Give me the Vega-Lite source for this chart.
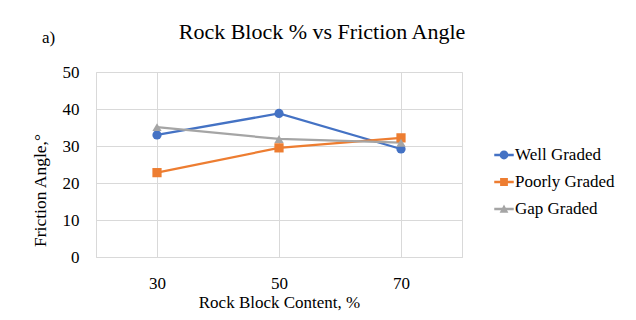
{
  "$schema": "https://vega.github.io/schema/vega-lite/v6.json",
  "background": "white",
  "autosize": "none",
  "width": 366,
  "height": 185,
  "padding": {"left": 96, "top": 72, "right": 174, "bottom": 63},
  "title": {"text": "Rock Block % vs Friction Angle", "anchor": "middle", "frame": "group", "font": "Liberation Serif", "fontSize": 22, "fontWeight": "normal", "color": "black", "dx": 43, "offset": -16},
  "data": {"values": [
    {"series": "Well Graded", "x": "30", "y": 33.0},
    {"series": "Well Graded", "x": "50", "y": 38.8},
    {"series": "Well Graded", "x": "70", "y": 29.2},
    {"series": "Poorly Graded", "x": "30", "y": 22.8},
    {"series": "Poorly Graded", "x": "50", "y": 29.5},
    {"series": "Poorly Graded", "x": "70", "y": 32.2},
    {"series": "Gap Graded", "x": "30", "y": 35.1},
    {"series": "Gap Graded", "x": "50", "y": 31.9},
    {"series": "Gap Graded", "x": "70", "y": 30.9}
  ]},
  "encoding": {
    "y": {"field": "y", "type": "quantitative",
      "scale": {"domain": [0, 50]},
      "axis": {"title": "Friction  Angle,°", "values": [0, 10, 20, 30, 40, 50], "grid": true, "gridColor": "#d9d9d9", "ticks": false, "domain": false, "labelFont": "Liberation Serif", "labelFontSize": 17, "labelColor": "black", "labelPadding": 17, "titleFont": "Liberation Serif", "titleFontSize": 17.5, "titleFontWeight": "normal", "titleColor": "black", "titleAngle": -90, "titleAlign": "center", "titleBaseline": "middle", "titleX": -56, "titleY": 118}}
  },
  "layer": [
    {"mark": {"type": "line", "strokeWidth": 2.25},
     "encoding": {
       "x": {"field": "x", "type": "ordinal", "sort": ["30", "50", "70"],
         "scale": {"paddingInner": 0, "paddingOuter": 0},
         "axis": {"orient": "bottom", "title": "Rock Block Content, %", "labelAngle": 0, "bandPosition": 0, "grid": true, "gridColor": "#d9d9d9", "ticks": false, "domain": true, "domainColor": "#d9d9d9", "labelFont": "Liberation Serif", "labelFontSize": 17, "labelColor": "black", "labelPadding": 18, "titleFont": "Liberation Serif", "titleFontSize": 17, "titleFontWeight": "normal", "titleColor": "black", "titlePadding": 3}},
       "color": {"field": "series", "type": "nominal", "legend": null,
         "scale": {"domain": ["Well Graded", "Poorly Graded", "Gap Graded"], "range": ["#4472C4", "#ED7D31", "#A5A5A5"]}}}},
    {"mark": {"type": "point", "filled": true, "opacity": 1, "size": 85},
     "encoding": {
       "x": {"field": "x", "type": "ordinal", "sort": ["30", "50", "70"], "axis": null},
       "color": {"field": "series", "type": "nominal", "legend": null,
         "scale": {"domain": ["Well Graded", "Poorly Graded", "Gap Graded"], "range": ["#4472C4", "#ED7D31", "#A5A5A5"]}},
       "shape": {"field": "series", "type": "nominal", "legend": null,
         "scale": {"domain": ["Well Graded", "Poorly Graded", "Gap Graded"], "range": ["circle", "square", "triangle-up"]}}}},
    {"mark": {"type": "point", "filled": true, "opacity": 0, "size": 10},
     "encoding": {
       "x": {"field": "x", "type": "ordinal", "sort": ["30", "50", "70"],
         "axis": {"orient": "top", "title": "a)", "labels": false, "ticks": false, "domain": false, "grid": false, "titleX": -48, "titleY": -30, "titleAlign": "center", "titleBaseline": "alphabetic", "titleFont": "Liberation Serif", "titleFontSize": 17, "titleFontWeight": "normal", "titleColor": "black"}},
       "color": {"field": "series", "type": "nominal",
         "scale": {"domain": ["Well Graded", "Poorly Graded", "Gap Graded"], "range": ["#4472C4", "#ED7D31", "#A5A5A5"]},
         "legend": {"title": null, "orient": "none", "legendX": 398, "legendY": 73, "padding": 0, "symbolSize": 380, "symbolOpacity": 1, "symbolStrokeWidth": 0, "labelFont": "Liberation Serif", "labelFontSize": 17, "labelColor": "black", "labelOffset": 1, "rowPadding": 9}},
       "shape": {"field": "series", "type": "nominal",
         "legend": {"title": null, "orient": "none", "legendX": 398, "legendY": 73, "padding": 0, "symbolSize": 380, "symbolOpacity": 1, "symbolStrokeWidth": 0, "labelFont": "Liberation Serif", "labelFontSize": 17, "labelColor": "black", "labelOffset": 1, "rowPadding": 9},
         "scale": {"domain": ["Well Graded", "Poorly Graded", "Gap Graded"], "range": [
           "M -1 -0.12 H 1 V 0.12 H -1 Z M -0.45 0 A 0.45 0.45 0 1 1 0.45 0 A 0.45 0.45 0 1 1 -0.45 0 Z",
           "M -1 -0.12 H 1 V 0.12 H -1 Z M -0.4 -0.4 H 0.4 V 0.4 H -0.4 Z",
           "M -1 -0.12 H 1 V 0.12 H -1 Z M -0.45 0.38 L 0 -0.45 L 0.45 0.38 Z"]}}}}
  ],
  "resolve": {"scale": {"shape": "independent", "color": "independent"}, "axis": {"x": "independent"}},
  "config": {"view": {"stroke": "#d9d9d9"}}
}
